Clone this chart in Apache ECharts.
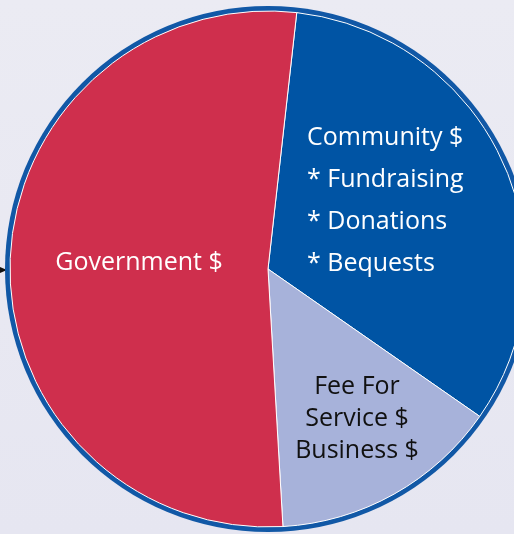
<!DOCTYPE html>
<html>
<head>
<meta charset="utf-8">
<script src="https://cdn.jsdelivr.net/npm/echarts@6/dist/echarts.min.js"></script>
<style>
html,body{margin:0;padding:0;background:#e8e8f2;}
#chart{width:514px;height:534px;}
</style>
</head>
<body>
<div id="chart"></div>
<script>
var categories = ['Community $\n* Fundraising\n* Donations\n* Bequests', 'Fee For\nService $\nBusiness $', 'Government $'];
var values = [32.9, 14.4, 52.7];
var colors = ['#0054a4', '#a7b2da', '#cf2f4d'];
var labelColors = ['#ffffff', '#111111', '#ffffff'];

var labelPos = [
  {x: 307, y: 117, align: 'left', lh: 42},
  {x: 357, y: 371, align: 'center', lh: 32},
  {x: 139, y: 248, align: 'center', lh: 30}
];

var chart = echarts.init(document.getElementById('chart'));
chart.setOption({
  backgroundColor: {
    type: 'linear', x: 0, y: 0, x2: 0, y2: 1,
    colorStops: [{offset: 0, color: '#ebebf3'}, {offset: 1, color: '#e6e6f1'}]
  },
  animation: false,
  graphic: [{
    type: 'polygon',
    shape: {points: [[0, 267], [7, 270], [0, 273]]},
    style: {fill: '#111'}
  }],
  series: [
    {
      type: 'pie',
      silent: true,
      center: [268, 269],
      radius: [0, 263],
      startAngle: 90,
      label: {show: false},
      labelLine: {show: false},
      itemStyle: {color: '#1158a6'},
      data: [{value: 1, name: 'ring'}],
      z: 1
    },
    {
      type: 'pie',
      center: [268, 269],
      radius: [0, 258],
      startAngle: 83.6,
      clockwise: true,
      z: 2,
      itemStyle: {borderColor: '#ffffff', borderWidth: 1},
      label: {
        show: true,
        position: 'inside',
        fontFamily: 'Open Sans',
        fontSize: 25,
        formatter: '{b}'
      },
      labelLine: {show: false},
      labelLayout: function (params) {
        var p = labelPos[params.dataIndex];
        return {x: p.x, y: p.y, align: p.align, verticalAlign: 'top'};
      },
      data: categories.map(function (c, i) {
        return {
          name: c,
          value: values[i],
          itemStyle: {color: colors[i]},
          label: {color: labelColors[i], lineHeight: labelPos[i].lh, align: labelPos[i].align}
        };
      })
    }
  ]
});
</script>
</body>
</html>
